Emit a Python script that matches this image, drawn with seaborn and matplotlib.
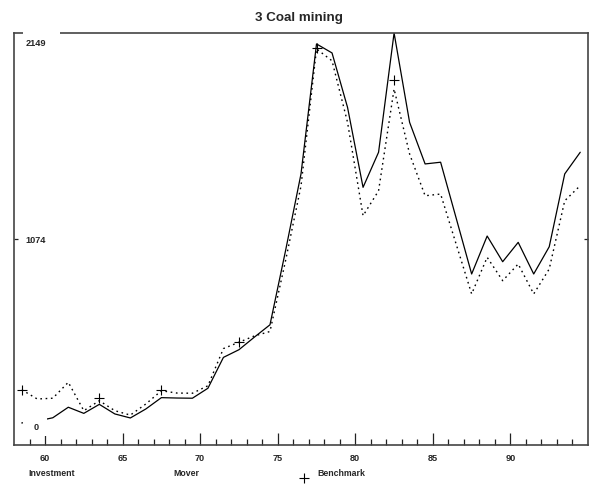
import matplotlib
matplotlib.use("Agg")
import matplotlib.pyplot as plt
import seaborn as sns
import pandas as pd
from matplotlib.patches import Rectangle
from matplotlib.lines import Line2D
from matplotlib.ticker import FixedLocator, NullLocator

# ---------------- data ----------------
years = list(range(58, 95))
investment = [115, 125, 142, 197, 165, 212, 162, 141, 188, 247, 245, 244, 296,
              457, 497, 563, 627, 1012, 1414, 2092, 2045, 1761, 1344, 1527, 2149,
              1683, 1466, 1475, 1184, 892, 1090, 956, 1057, 892, 1034, 1414, 1527]
mover = [288, 240, 244, 327, 179, 231, 179, 156, 214, 283, 271, 270, 309,
         503, 536, 569, 592, 960, 1351, 2066, 2004, 1683, 1196, 1326, 1857,
         1518, 1300, 1309, 1048, 788, 979, 857, 944, 788, 918, 1274, 1353]
bench_years = [58, 63, 67, 72, 77, 82]
benchmark = [288, 244, 288, 536, 2069, 1905]
xtick_values = [60, 65, 70, 75, 80, 85, 90]
xtick_labels = ["60", "65", "70", "75", "80", "85", "90"]
ytick_values = [0, 1074, 2149]
ytick_labels = ["0", "1074", "2149"]
title = "3 Coal mining"
legend_labels = ["Investment", "Mover", "Benchmark"]

# ---------------- style ----------------
sns.set_style("ticks")
plt.rcParams["font.family"] = ["Liberation Sans", "DejaVu Sans"]
plt.rcParams["font.weight"] = "bold"

fig = plt.figure(figsize=(5.89, 4.85), dpi=100)
W, H = 589, 485
ax = fig.add_axes([14 / W, 1 - 446 / H, 574 / W, 412 / H])

df = pd.DataFrame({"year": [y + 0.5 for y in years],
                   "investment": investment, "mover": mover})
dfb = pd.DataFrame({"year": [y + 0.5 for y in bench_years], "benchmark": benchmark})

sns.lineplot(data=df, x="year", y="investment", ax=ax, color="black",
             linewidth=0.9, zorder=2)
sns.lineplot(data=df, x="year", y="mover", ax=ax, color="black",
             linewidth=1.0, linestyle=(0, (1.2, 2.6)), zorder=2)
sns.scatterplot(data=dfb, x="year", y="benchmark", ax=ax, marker="+", s=55,
                color="black", linewidth=0.8, zorder=2)

ax.set_xlim(58, 95)
ax.set_ylim(ytick_values[0], ytick_values[-1])
ax.set_xlabel("")
ax.set_ylabel("")

for s in ax.spines.values():
    s.set_visible(True)
    s.set_color("#444444")
    s.set_linewidth(1.2)

ax.xaxis.set_major_locator(FixedLocator(xtick_values))
ax.set_xticklabels(xtick_labels)
ax.xaxis.set_minor_locator(FixedLocator(list(range(59, 95))))
ax.tick_params(axis="x", which="major", direction="in", length=8.6, width=0.9,
               color="#222222", pad=6, labelsize=6.6)
ax.tick_params(axis="x", which="minor", direction="in", length=4.3, width=0.9,
               color="#222222")
ax.yaxis.set_major_locator(FixedLocator([ytick_values[1]]))
ax.yaxis.set_minor_locator(NullLocator())
ax.tick_params(axis="y", which="major", direction="in", length=3, width=0.9,
               color="#222222", left=True, right=True, labelleft=False)
for lab in ax.get_xticklabels():
    lab.set_fontweight("bold")

# white label boxes and y labels (inside the plot)
boxes = [((23 - 14) / 574, (446 - 437) / 412, (47 - 23) / 574, 18 / 412),
         ((23 - 14) / 574, (446 - 249) / 412, (60 - 23) / 574, 17 / 412),
         ((23 - 14) / 574, (446 - 52) / 412, (60 - 23) / 574, 20 / 412)]
label_y = [(446 - 428) / 412, (446 - 240.5) / 412, (446 - 43) / 412]
for (bx, by, bw, bh), ly, txt in zip(boxes, label_y, ytick_labels):
    ax.add_patch(Rectangle((bx, by), bw, bh, transform=ax.transAxes,
                           facecolor="white", edgecolor="none", zorder=3,
                           clip_on=False))
    ax.text((36 - 14) / 574, ly, txt, transform=ax.transAxes, ha="center",
            va="center", fontsize=6.6, fontweight="bold", zorder=4)

# title
fig.text(298.5 / W, 1 - 18 / H, title, ha="center", va="center",
         fontsize=9.6, fontweight="bold")

# legend row
fig.text(52 / W, 1 - 474 / H, legend_labels[0], ha="center", va="center",
         fontsize=6.3, fontweight="bold")
fig.text(186 / W, 1 - 474 / H, legend_labels[1], ha="center", va="center",
         fontsize=6.3, fontweight="bold")
fig.text(317 / W, 1 - 474 / H, legend_labels[2], ha="left", va="center",
         fontsize=6.3, fontweight="bold")
fig.add_artist(Line2D([304 / W], [1 - 479 / H], marker="+", markersize=7.5,
                      markeredgewidth=0.8, color="black",
                      transform=fig.transFigure))

fig.savefig("out.png", dpi=100)
